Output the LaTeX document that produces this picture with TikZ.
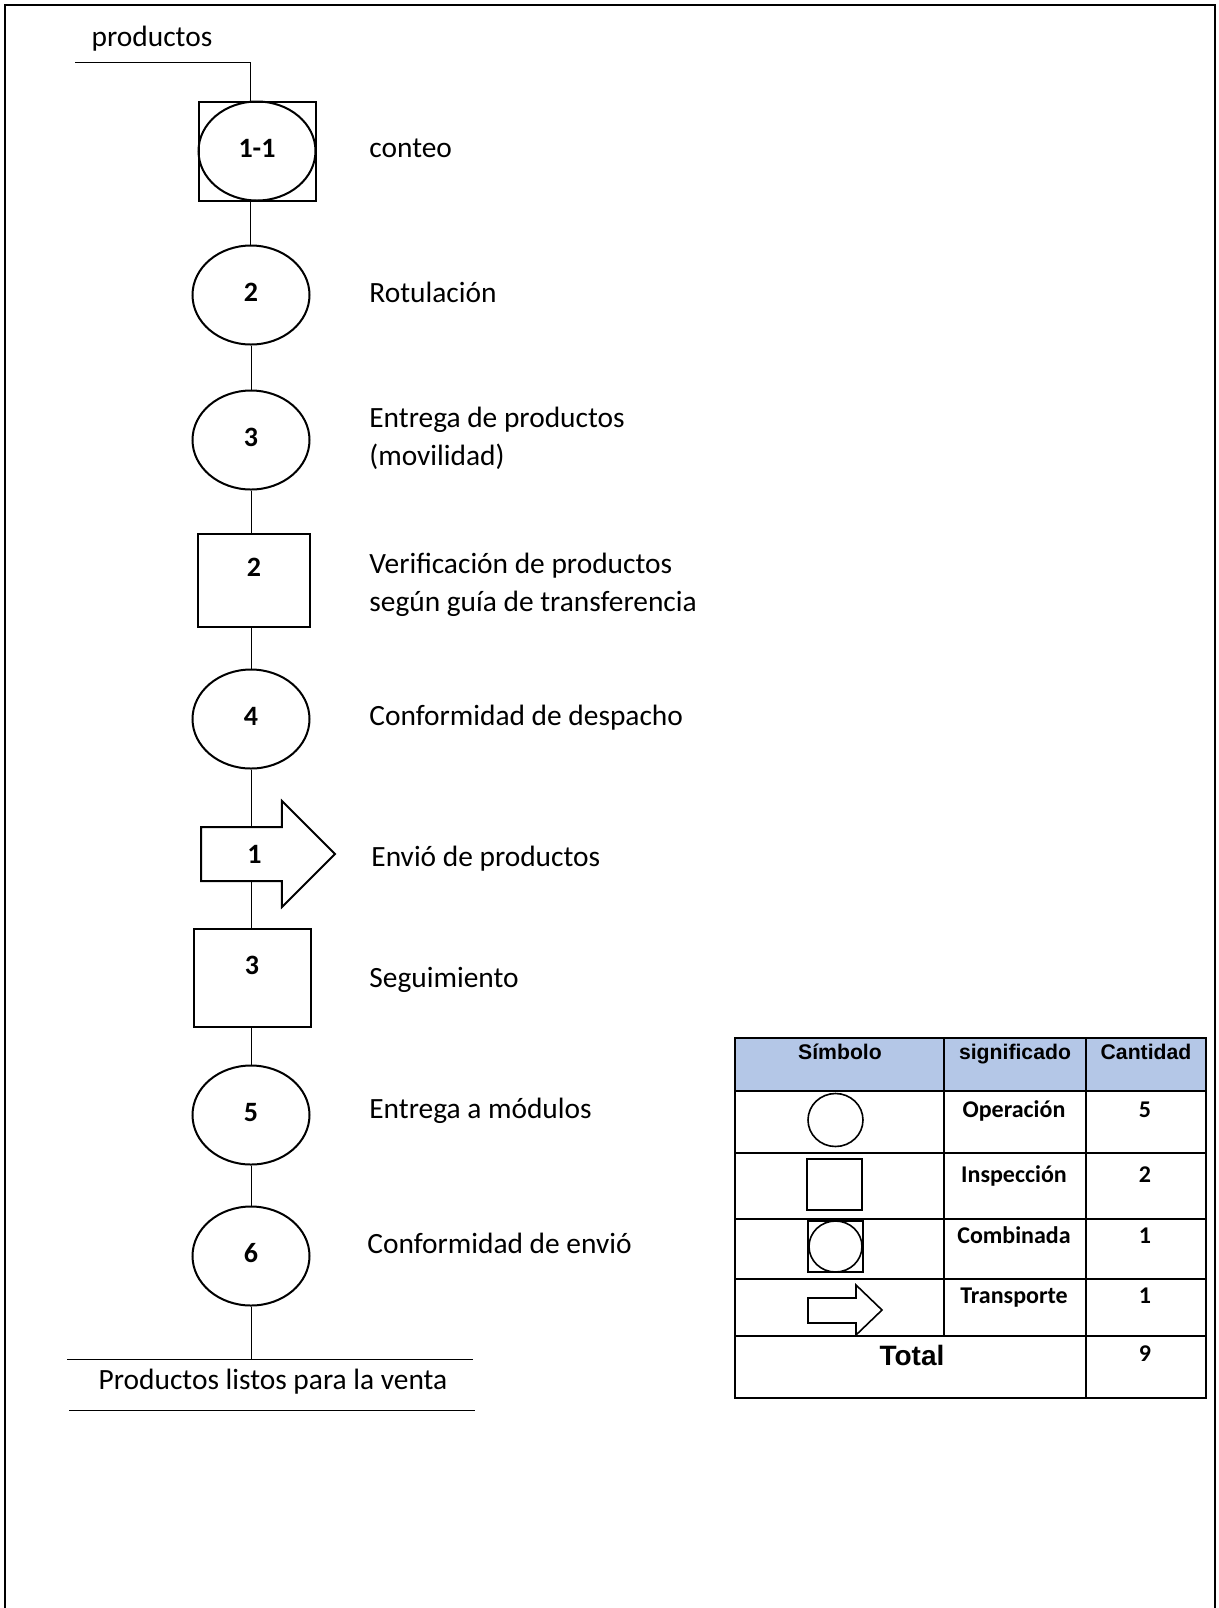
\documentclass[tikz,border=0pt]{standalone}
\usepackage{fontspec}
\setmainfont{Carlito}
\newfontfamily\arialfont{Liberation Sans}
\usepackage{tikz}
\usetikzlibrary{shapes.geometric, shapes.arrows}
\usepackage{xcolor}
\definecolor{headblue}{RGB}{180,199,231}

\tikzset{
  num/.style={font=\fontsize{14}{16}\selectfont\bfseries, text height=9pt, text depth=3pt},
  oper/.style={draw, ellipse, line width=1pt, minimum width=58.5pt, minimum height=49.5pt, inner sep=0pt, num},
  insp/.style={draw, rectangle, line width=1pt, minimum width=58pt, minimum height=48pt, inner sep=0pt, num},
  transp/.style={draw, single arrow, line width=1pt, minimum height=67pt, single arrow head extend=13pt,
    inner xsep=0pt, inner ysep=8.5pt, font=\fontsize{14}{16}\selectfont\bfseries, text height=9pt, text depth=0pt},
  desc/.style={anchor=base west, align=left, inner sep=0pt, font=\fontsize{14.7}{18.75}\selectfont},
  plain/.style={inner sep=0pt, font=\fontsize{14.7}{17}\selectfont},
  link/.style={line width=0.5pt},
  grid/.style={line width=0.85pt},
  cell/.style={font=\fontsize{12}{14}\selectfont\bfseries, text height=8.5pt, text depth=2.5pt},
  headcell/.style={font=\arialfont\fontsize{10.6}{12}\selectfont\bfseries, text height=8pt, text depth=2pt},
}

\begin{document}
\begin{tikzpicture}[x=0.5pt, y=-0.5pt]
  \useasboundingbox (0,0) rectangle (1219,1608);
  \draw[line width=1pt] (5,1608) -- (5,5) -- (1215,5) -- (1215,1608);
  % entrada
  \node[plain] (prodin) at (152,39) {productos};
  \coordinate (inL) at (75,62);
  \coordinate (inR) at (250,62);
  \draw[link] (inL) -- (inR);
  % diagrama de proceso
  \node[insp, minimum width=58.5pt, minimum height=49.5pt] (c1) at (257,151) {};
  \node[oper] (c1in) at (c1) {1-1};
  \node[oper] (o2) at (251,295) {2};
  \node[oper] (o3) at (251,440) {3};
  \node[insp, minimum width=56pt, minimum height=46.5pt] (i2) at (254,580) {\raisebox{5pt}{2}};
  \node[oper] (o4) at (251,719) {4};
  \node[transp, anchor=tail] (t1) at (200,854) {1};
  \node[insp, minimum width=58.5pt, minimum height=49pt] (i3) at (252,978) {\raisebox{5pt}{3}};
  \node[oper] (o5) at (251,1115) {5};
  \node[oper] (o6) at (251,1256) {6};
  \draw[link] (inR) -- (inR |- c1.north);
  \draw[link] (inR |- c1.south) -- (inR |- o2.north);
  \foreach \a/\b in {o2/o3, o3/i2, i2/o4, i3/o5, o5/o6}
    \draw[link] (o2.south |- \a.south) -- (o2.south |- \b.north);
  \draw[link] (o4.south) -- (o4.south |- t1.north);
  \draw[link] (o4.south |- t1.south) -- (o4.south |- i3.north);
  % salida
  \coordinate (outL) at (67,1359);
  \coordinate (outR) at (473,1359);
  \coordinate (endL) at (69,1410);
  \coordinate (endR) at (475,1410);
  \draw[link] (o6.south) -- (o6.south |- outL);
  \draw[link] (outL) -- (outR);
  \node[plain] (prodout) at (273,1382) {Productos listos para la venta};
  \draw[link] (endL) -- (endR);
  % descripciones
  \node[desc] (d1) at (369,157) {conteo};
  \node[desc] (d2) at (369,302) {Rotulación};
  \node[desc] (d3) at (369,465) {Entrega de productos\\(movilidad)};
  \node[desc] (d4) at (369,611) {Verificación de productos\\según guía de transferencia};
  \node[desc] (d5) at (369,725) {Conformidad de despacho};
  \node[desc] (d6) at (371,866) {Envió de productos};
  \node[desc] (d7) at (369,987) {Seguimiento};
  \node[desc] (d8) at (369,1118) {Entrega a módulos};
  \node[desc] (d9) at (367,1253) {Conformidad de envió};
  % cuadro resumen
  \fill[headblue] (735,1038) rectangle (1206,1091);
  \draw[grid] (735,1038) rectangle (1206,1398);
  \foreach \y in {1091,1153,1219,1279,1336}
    \draw[grid] (735,\y) -- (1206,\y);
  \draw[grid] (944,1038) -- (944,1336);
  \draw[grid] (1086,1038) -- (1086,1398);
  \node[headcell] (hsym) at (840,1053) {Símbolo};
  \node[headcell] (hmean) at (1015,1053) {significado};
  \node[headcell] (hqty) at (1146,1053) {Cantidad};
  \foreach \y/\txt/\n [count=\k] in {1111/Operación/5, 1176/Inspección/2, 1237/Combinada/1, 1297/Transporte/1} {
    \node[cell] (mean\k) at (1014,\y) {\txt};
    \node[cell] (qty\k) at (1145,\y) {\n};
  }
  \node[font=\arialfont\fontsize{14}{17}\selectfont\bfseries] (total) at (912,1355) {Total};
  \node[cell] (qty5) at (1145,1355) {9};
  % simbolos
  \draw[line width=0.8pt] (835.5,1120) ellipse [x radius=27.5, y radius=26.5];
  \draw[line width=0.8pt] (807,1159) rectangle (862,1210);
  \draw[line width=0.8pt] (808,1221) rectangle (863,1272);
  \draw[line width=0.8pt] (835.5,1246.5) ellipse [x radius=26.5, y radius=25.5];
  \draw[line width=0.8pt] (808,1298) -- (856,1298) -- (856,1285) -- (882,1310)
    -- (856,1335) -- (856,1323) -- (808,1323) -- cycle;
\end{tikzpicture}
\end{document}
